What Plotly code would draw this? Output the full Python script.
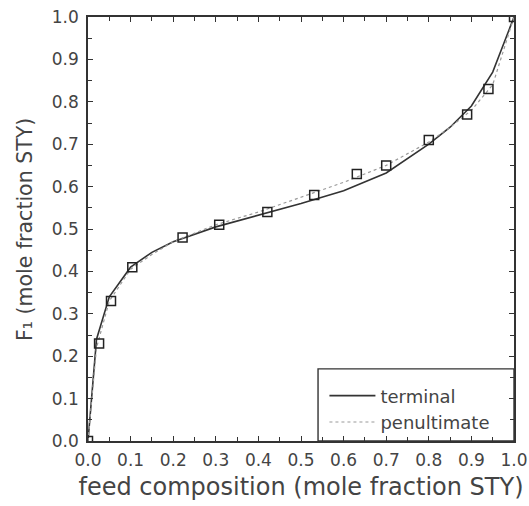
import plotly.graph_objects as go

# experimental points (open squares)
exp_x = [0.0, 0.026, 0.054, 0.104, 0.222, 0.308, 0.421, 0.531, 0.631, 0.70, 0.80, 0.89, 0.94, 1.0]
exp_y = [0.0, 0.23, 0.33, 0.41, 0.48, 0.51, 0.54, 0.58, 0.63, 0.65, 0.71, 0.77, 0.83, 1.0]

# model curves
model_x = [0.0, 0.02, 0.05, 0.1, 0.15, 0.2, 0.3, 0.4, 0.5, 0.6, 0.7, 0.8, 0.85, 0.9, 0.95, 1.0]
terminal_y = [0.0, 0.24, 0.34, 0.41, 0.445, 0.47, 0.505, 0.532, 0.56, 0.59, 0.632, 0.70, 0.74, 0.79, 0.87, 1.0]
penult_y = [0.0, 0.22, 0.33, 0.405, 0.44, 0.47, 0.51, 0.54, 0.575, 0.61, 0.65, 0.705, 0.74, 0.78, 0.84, 1.0]

tick_vals = [0.0, 0.1, 0.2, 0.3, 0.4, 0.5, 0.6, 0.7, 0.8, 0.9, 1.0]
tick_text = ["0.0", "0.1", "0.2", "0.3", "0.4", "0.5", "0.6", "0.7", "0.8", "0.9", "1.0"]

fig = go.Figure()

fig.add_trace(go.Scatter(x=model_x, y=terminal_y, mode='lines',
                         line=dict(color='#333333', width=1.6),
                         name='terminal'))

fig.add_trace(go.Scatter(x=model_x, y=penult_y, mode='lines',
                         line=dict(color='#999999', width=1.2, dash='dot'),
                         name='penultimate'))

fig.add_trace(go.Scatter(x=exp_x, y=exp_y, mode='markers',
                         marker=dict(symbol='square-open', size=9,
                                     color='#222222', line=dict(width=1.5)),
                         showlegend=False))

axis_style = dict(
    range=[0, 1.0],
    tickvals=tick_vals,
    ticktext=tick_text,
    ticks="inside",
    ticklen=5,
    tickwidth=1.2,
    tickcolor='#333333',
    minor=dict(dtick=0.05, ticks="inside", ticklen=4, tickcolor='#333333', tickwidth=1.2),
    showline=True,
    linewidth=1.6,
    linecolor='#333333',
    mirror='ticks',
    showgrid=False,
    zeroline=False,
    automargin=False,
    ticklabeloverflow='allow',
    tickfont=dict(size=17, color='#444444'),
)

fig.update_layout(
    autosize=False,
    width=529,
    height=506,
    margin=dict(l=88, r=15, t=17, b=65),
    plot_bgcolor='white',
    paper_bgcolor='white',
    font=dict(family='DejaVu Sans', color='#444444'),
    xaxis=dict(axis_style, ticklabelstandoff=3,
               title=dict(text='feed composition (mole fraction STY)',
                          font=dict(size=24), standoff=9)),
    yaxis=dict(axis_style, ticklabelstandoff=4),
    legend=dict(
        x=0.555, y=0.15, xanchor='left', yanchor='top',
        bgcolor='rgba(0,0,0,0)', borderwidth=0,
        font=dict(size=18, color='#444444'),
        itemwidth=46,
    ),
    shapes=[dict(type='rect', xref='x', yref='y', x0=0.54, x1=1.0, y0=0.0, y1=0.17,
                 line=dict(color='#333333', width=1.4), fillcolor='white', layer='below')],
)

fig.add_annotation(text='F\u2081 (mole fraction STY)', textangle=-90,
                   xref='paper', yref='paper', x=-0.148, y=0.5,
                   xanchor='center', yanchor='middle', showarrow=False,
                   font=dict(size=20.5, color='#444444'))

# drop the default page margin so the figure sits at the window's corner
fig.write_html("out.html",
               config={'displayModeBar': False},
               post_script="document.body.style.margin='0px';"
                           "document.body.style.overflow='hidden';")
